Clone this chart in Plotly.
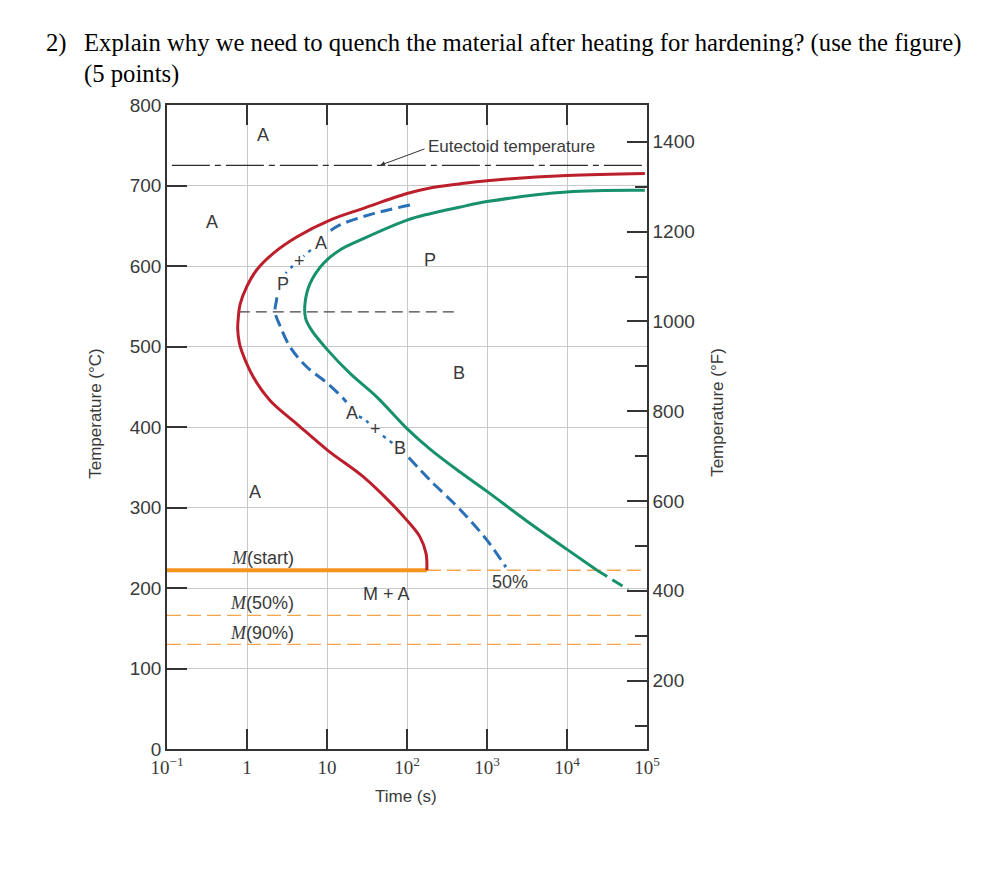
import math
import plotly.graph_objects as go

# ---------------- data ----------------
# start curve (red)
red_time = [94000, 10000, 1000, 450, 194, 100, 28.5, 10.9, 4.18, 2.13, 1.32, 0.99, 0.818, 0.78, 0.765, 0.80, 0.86, 1.2, 1.94, 4.18, 10.2, 28.5, 61, 100, 145, 173, 177]
red_temp = [715, 712.5, 706, 702, 697, 690, 671.6, 657, 636, 615.7, 595, 574, 552, 537, 522, 505, 494, 462, 433, 404, 371, 338, 307, 284, 263.5, 243, 222]

# finish curve (green), solid part and dashed extension
green_time = [94000, 10000, 1000, 450, 194, 100, 28.5, 14.5, 9.0, 6.13, 5.31, 5.4, 6.44, 10.2, 19.4, 41.8, 100, 194, 460, 1000, 3162, 10000, 23700]
green_temp = [694, 692, 680, 673, 665, 657, 634, 620, 603, 578, 553.5, 535, 520, 495.5, 466.6, 437.5, 398, 372.5, 344, 320, 283, 248, 222]
green_dash_time = [23700, 58300]
green_dash_temp = [222, 198]

# 50% curve (blue) in segments (dashed / dotted around the labels)
blue1_time = [109, 38, 14.5, 9.9]
blue1_temp = [675.7, 665, 651, 640.6]
blue2a_time = [6.3, 5.6, 5.1]
blue2a_temp = [620, 616, 612]
blue2b_time = [3.75, 3.28, 3.05]
blue2b_temp = [600, 595, 591]
blue3_time = [2.36, 2.34, 2.24, 2.58, 3.45, 5.57, 10.2, 16, 17.5]
blue3_temp = [561, 557.7, 543, 526, 499.6, 474.8, 454, 435.5, 431]
blue4a_time = [25, 29, 33]
blue4a_temp = [413, 410, 405]
blue4b_time = [50, 58, 66]
blue4b_temp = [389, 384, 380]
blue5_time = [105, 194, 460, 1000, 1720]
blue5_temp = [362, 334, 297.5, 259.4, 226]

eutectoid_temp = 725
eutectoid_time = [0.115, 100000]
nose_temp = 543
nose_time = [0.79, 400]
ms_temp = 222
ms_solid_time = [0.1, 177]
ms_dash_time = [177, 100000]
m50_temp = 166
m90_temp = 130
full_time = [0.1, 100000]

x_tickvals = [0.1, 1, 10, 100, 1000, 10000, 100000]
x_ticktext = ["10<sup>\u22121</sup>", "1", "10", "10<sup>2</sup>", "10<sup>3</sup>", "10<sup>4</sup>", "10<sup>5</sup>"]
y_tickvals = [0, 100, 200, 300, 400, 500, 600, 700, 800]
f_major = [200, 400, 600, 800, 1000, 1200, 1400]
f_minor = [100, 300, 500, 700, 900, 1100, 1300]

# region labels: (text, time, temp)
region_labels = [
    ("A", 1.58, 763), ("A", 0.365, 655), ("A", 8.3, 628), ("+", 4.47, 606),
    ("P", 2.79, 577.5), ("P", 194, 607), ("B", 447, 467), ("A", 20.4, 417),
    ("+", 40.6, 397), ("B", 81.8, 374), ("A", 1.26, 319), ("M + A", 56, 193),
    ("50%", 1950, 208),
]
m_labels = [("(start)", 237), ("(50%)", 181), ("(90%)", 144)]

# ---------------- styling ----------------
RED = "#BC1F2C"
GREEN = "#17916C"
BLUE = "#2A70B6"
ORANGE = "#F7941D"
ORANGE_L = "#F6A54E"
DARK = "#333333"
TXT = "#3a3a3a"
SANS = "Liberation Sans"
SERIF = "Liberation Serif"

fig = go.Figure()


def line(x, y, color, width, dash="solid", smooth=True):
    fig.add_trace(go.Scatter(
        x=x, y=y, mode="lines",
        line=dict(color=color, width=width, dash=dash,
                  shape="spline" if smooth else "linear", smoothing=1.0),
        hoverinfo="skip", showlegend=False))


# reference horizontal lines
line(eutectoid_time, [eutectoid_temp] * 2, "#2b2b2b", 1.3, "38px,5px,6px,5px", False)
line(nose_time, [nose_temp] * 2, "#444444", 1.3, "11px,6px", False)
line(full_time, [m50_temp] * 2, ORANGE_L, 1.4, "14px,6px", False)
line(full_time, [m90_temp] * 2, ORANGE_L, 1.4, "14px,6px", False)
line(ms_dash_time, [ms_temp] * 2, ORANGE_L, 1.4, "14px,6px", False)
line(ms_solid_time, [ms_temp] * 2, ORANGE, 4, "solid", False)

# curves
line(red_time, red_temp, RED, 3)
line(green_time, green_temp, GREEN, 3)
line(green_dash_time, green_dash_temp, GREEN, 3, "12px,6px", False)
line(blue1_time, blue1_temp, BLUE, 3, "12px,6px")
line(blue2a_time, blue2a_temp, BLUE, 2.5, "3px,6px")
line(blue2b_time, blue2b_temp, BLUE, 2.5, "3px,6px")
line(blue3_time, blue3_temp, BLUE, 3, "12px,6px")
line(blue4a_time, blue4a_temp, BLUE, 2.5, "3px,6px")
line(blue4b_time, blue4b_temp, BLUE, 2.5, "3px,6px")
line(blue5_time, blue5_temp, BLUE, 3, "12px,6px")

# invisible trace to keep the °F axis alive
fig.add_trace(go.Scatter(x=[1], y=[800], yaxis="y2", mode="markers", marker=dict(opacity=0),
                         hoverinfo="skip", showlegend=False))

annotations = []
for txt, t, T in region_labels:
    annotations.append(dict(x=math.log10(t), y=T, xref="x", yref="y", text=txt, showarrow=False,
                            xanchor="center", yanchor="middle",
                            font=dict(family=SANS, size=18, color=TXT)))

m_span = "<span style='font-family:Liberation Serif'><i>M</i></span>"
for txt, T in m_labels:
    annotations.append(dict(x=math.log10(1.54), y=T, xref="x", yref="y", text=m_span + txt, showarrow=False,
                            xanchor="center", yanchor="middle",
                            font=dict(family=SANS, size=18, color=TXT)))

# eutectoid label + arrow
annotations.append(dict(x=math.log10(2050), y=748, xref="x", yref="y", text="Eutectoid temperature",
                        xanchor="center", yanchor="middle",
                        showarrow=False, font=dict(family=SANS, size=17, color=TXT)))
annotations.append(dict(x=math.log10(46), y=725, xref="x", yref="y", text="", showarrow=True,
                        ax=46, ay=-17, arrowhead=2, arrowsize=1, arrowwidth=1, arrowcolor="#333"))

# axis titles
annotations.append(dict(x=-0.148, y=0.522, xref="paper", yref="paper", text="Temperature (\u00b0C)", textangle=-90,
                        xanchor="center", yanchor="middle",
                        showarrow=False, font=dict(family=SANS, size=17, color=TXT)))
annotations.append(dict(x=1.148, y=0.522, xref="paper", yref="paper", text="Temperature (\u00b0F)", textangle=-90,
                        xanchor="center", yanchor="middle",
                        showarrow=False, font=dict(family=SANS, size=17, color=TXT)))
annotations.append(dict(x=0.498, y=-0.0745, xref="paper", yref="paper", text="Time (s)",
                        xanchor="center", yanchor="middle",
                        showarrow=False, font=dict(family=SANS, size=17, color=TXT)))

# question text
QF = dict(family=SERIF, size=24.7, color="black")
annotations.append(dict(x=-0.256, y=1.0963, xref="paper", yref="paper", xanchor="left", yanchor="middle",
                        text="2)", showarrow=False, font=QF))
annotations.append(dict(x=-0.177, y=1.0963, xref="paper", yref="paper", xanchor="left", yanchor="middle",
                        text="Explain why we need to quench the material after heating for hardening? (use the figure)",
                        showarrow=False, font=QF))
annotations.append(dict(x=-0.177, y=1.0481, xref="paper", yref="paper", xanchor="left", yanchor="middle",
                        text="(5 points)", showarrow=False, font=QF))

fig.update_layout(
    width=983, height=860,
    margin=dict(l=159, r=344, t=97, b=119),
    paper_bgcolor="white", plot_bgcolor="white",
    annotations=annotations,
    xaxis=dict(type="log", range=[-1, 5], tickvals=x_tickvals, ticktext=x_ticktext,
               ticks="inside", ticklen=20, tickwidth=1.5, tickcolor=DARK,
               showline=True, linecolor=DARK, linewidth=1.5, mirror="ticks",
               showgrid=True, gridcolor="#c9c9c9", gridwidth=1, zeroline=False,
               tickfont=dict(family=SERIF, size=19, color=TXT)),
    yaxis=dict(range=[0, 800], tickvals=y_tickvals, ticks="inside", ticklen=20, tickwidth=1.5, tickcolor=DARK,
               showline=True, linecolor=DARK, linewidth=1.5,
               showgrid=True, gridcolor="#c9c9c9", gridwidth=1, zeroline=False,
               tickfont=dict(family=SANS, size=19, color=TXT)),
    yaxis2=dict(overlaying="y", side="right", anchor="x", range=[47.7, 1482],
                tickvals=f_major, ticks="inside", ticklen=20, tickwidth=1.5, tickcolor=DARK,
                minor=dict(tickvals=f_minor, ticks="inside", ticklen=12, tickwidth=1.5, tickcolor=DARK, showgrid=False),
                showline=True, linecolor=DARK, linewidth=1.5, showgrid=False, zeroline=False,
                tickfont=dict(family=SANS, size=19, color=TXT)),
)

fig.write_html("out.html")
